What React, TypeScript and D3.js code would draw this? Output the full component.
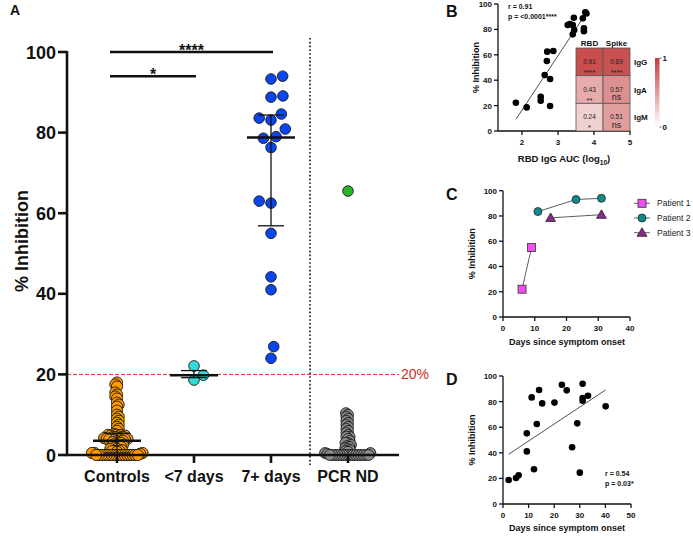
import React from "react";
import * as d3 from "d3";

// ---------- Panel A data ----------
const groupsA = ["Controls", "<7 days", "7+ days", "PCR ND"];
const controlsValues = [
  18, 17.5, 17, 15.5, 15, 14.5, 14, 13, 12.5, 12, 11, 10, 9.5, 9, 8.5, 8, 7.5, 7, 6.5, 6,
  5.2, 5, 5, 5, 4.8, 4.8, 4.6, 4.5, 4.5, 4.4, 4.2, 4.2, 4, 4, 4, 3.9, 3.8, 3.8, 3.7, 3.6,
  3.5, 3.4, 3.2, 3, 3, 2.8, 2.5, 2.5, 2.2, 2, 2, 1.8, 1.5, 1.5, 1.2, 1, 1, 1, 0.8, 0.5,
  0.5, 0.5, 0.3, 0, 0, 0, 0, 0, 0, 0, 0, 0, 0, 0, 0, 0, 0, 0, 0, 0,
];
const earlyValues = [22.1, 18.6, 19.8];
const lateValues = [93.3, 94.0, 88.8, 89.1, 84.6, 83.6, 83.1, 80.9, 78.6, 79.0, 76.3, 63.0, 62.5, 55.0, 44.2, 41.0, 26.9, 24.0];
const pcrNDValues = [
  10.4, 10, 9.5, 9, 8.5, 8, 7.5, 7, 6.5, 6, 5.5, 5, 4.5, 4.5, 4, 3.5, 3, 3, 2.5, 2.2, 2, 1.7,
  1.5, 1.2, 1, 0.8, 0.5, 0.5, 0.3, 0, 0, 0, 0, 0, 0, 0, 0, 0, 0, 0, 0, 0, 0, 0, 0,
];
const pcrPositiveValues = [65.5];
const yTicksA = [0, 20, 40, 60, 80, 100];
const thresholdA = 20;
const sigBars = [
  { from: "Controls", to: "7+ days", level: 100, label: "****" },
  { from: "Controls", to: "<7 days", level: 94, label: "*" },
];

// ---------- Panel B data ----------
const aucB = [1.83, 2.13, 2.52, 2.52, 2.78, 2.63, 2.78, 2.69, 2.70, 2.87, 3.27, 3.33, 3.41, 3.44, 3.45, 3.41, 3.69, 3.72, 3.72, 3.76, 3.79];
const inhB = [22.3, 18.6, 27.0, 23.9, 19.7, 44.0, 41.0, 55.1, 62.5, 63.0, 83.5, 84.2, 83.5, 89.2, 79.5, 76.1, 88.7, 80.8, 78.6, 93.4, 92.5];
const xTicksB = [2, 3, 4, 5];
const yTicksSmall = [0, 20, 40, 60, 80, 100];
const heatRows = ["IgG", "IgA", "IgM"];
const heatCols = ["RBD", "Spike"];
const heatR = [[0.91, 0.89], [0.43, 0.57], [0.24, 0.51]];
const heatSig = [["****", "****"], ["**", "ns"], ["*", "ns"]];

// ---------- Panel C data ----------
const patients = ["Patient 1", "Patient 2", "Patient 3"];
const p1Days = [6, 9];
const p1Inh = [22, 55];
const p2Days = [11, 23, 31];
const p2Inh = [83.5, 93, 94];
const p3Days = [15, 31];
const p3Inh = [78.5, 81];
const xTicksC = [0, 10, 20, 30, 40];

// ---------- Panel D data ----------
const daysD = [2.2, 5.1, 6.1, 9.3, 9.3, 12.1, 13.2, 11.2, 14.1, 15.3, 20.1, 23, 24.9, 27, 29, 30, 31.1, 31.1, 31.1, 33.2, 40.1];
const inhD = [18.75, 20.3, 22.4, 41.1, 55.2, 27.1, 62.5, 83.3, 89.1, 78.6, 79.2, 93.2, 88.8, 44.3, 63, 24.5, 94, 82.8, 80.7, 84.6, 76.3];
const xTicksD = [0, 10, 20, 30, 40, 50];

const FONT = "'Liberation Sans', Arial, Helvetica, sans-serif";
const INK = "#111";

function swarm(values: number[], y: (v: number) => number, d: number): number[] {
  const idx = values.map((_, i) => i).sort((a, b) => values[a] - values[b]);
  const placed: { x: number; y: number }[] = [];
  const out = new Array(values.length).fill(0);
  let flip = 1;
  for (const i of idx) {
    const py = y(values[i]);
    const cands = [0];
    for (const p of placed) {
      const dy = Math.abs(p.y - py);
      if (dy < d) {
        const dx = Math.sqrt(d * d - dy * dy);
        cands.push(p.x + dx, p.x - dx);
      }
    }
    cands.sort((a, b) => Math.abs(a) - Math.abs(b) || (a - b) * flip);
    flip = -flip;
    let chosen = 0;
    for (const c of cands) {
      if (placed.every((p) => (p.x - c) ** 2 + (p.y - py) ** 2 >= d * d - 1e-6)) {
        chosen = c;
        break;
      }
    }
    placed.push({ x: chosen, y: py });
    out[i] = chosen;
  }
  return out;
}

function linreg(xs: number[], ys: number[]) {
  const mx = d3.mean(xs)!;
  const my = d3.mean(ys)!;
  let num = 0, den = 0;
  xs.forEach((x, i) => {
    num += (x - mx) * (ys[i] - my);
    den += (x - mx) ** 2;
  });
  const b = num / den;
  return { a: my - b * mx, b };
}

export default function App() {
  // ----- A scales -----
  const xA = d3.scalePoint<string>().domain(groupsA).range([117, 348]);
  const yA = d3.scaleLinear().domain([0, 100]).range([455, 52]);
  const axisA = 67;

  const groupData = [
    { g: "Controls", vals: controlsValues, fill: "#ff9900", d: 2.6, r: 5.6, summary: true },
    { g: "<7 days", vals: earlyValues, fill: "#33dbd6", d: 10.6, r: 5.3, summary: true },
    { g: "7+ days", vals: lateValues, fill: "#0a46f0", d: 12, r: 5.3, summary: true },
    { g: "PCR ND", vals: pcrNDValues, fill: "#8c8c8c", d: 2.6, r: 5.4, summary: false },
  ];

  // ----- B scales -----
  const xB = d3.scaleLinear().domain([4 / 3, 5]).range([498, 630]);
  const yB = d3.scaleLinear().domain([0, 100]).range([131, 4]);
  const regB = linreg(aucB, inhB);
  const bx0 = d3.min(aucB)!, bx1 = d3.max(aucB)!;
  const colBand = d3.scaleBand<string>().domain(heatCols).range([576, 630]);
  const rowBand = d3.scaleBand<string>().domain(heatRows).range([48, 131]);
  const heatBase = "#c43c3c";
  const heatColor = (v: number) => d3.interpolateRgb("#ffffff", heatBase)(v);
  const cbScale = d3.scaleLinear().domain([0, 1]).range([127, 58]);

  // ----- C scales -----
  const xC = d3.scaleLinear().domain([0, 40]).range([503, 630]);
  const yC = d3.scaleLinear().domain([0, 100]).range([317, 190.7]);
  const lineC = (xs: number[], ys: number[]) =>
    d3.line<number>().x((_, i) => xC(xs[i])).y((_, i) => yC(ys[i]))(xs);

  // ----- D scales -----
  const xD = d3.scaleLinear().domain([0, 50]).range([503, 631]);
  const yD = d3.scaleLinear().domain([0, 100]).range([504, 376]);
  const regD = linreg(daysD, inhD);
  const dx0 = d3.min(daysD)!, dx1 = d3.max(daysD)!;

  const smallAxes = (
    xs: d3.ScaleLinear<number, number>,
    ys: d3.ScaleLinear<number, number>,
    xt: number[],
    key: string
  ) => {
    const [x0, x1] = xs.range();
    const [y0, y1] = ys.range();
    return (
      <g key={key} fontFamily={FONT} fontWeight="bold" fontSize={8} fill={INK}>
        <line x1={x0} x2={x0} y1={y0} y2={y1} stroke={INK} strokeWidth={1.3} />
        <line x1={x0} x2={x1} y1={y0} y2={y0} stroke={INK} strokeWidth={1.3} />
        {yTicksSmall.map((t) => (
          <g key={"y" + t}>
            <line x1={x0 - 4} x2={x0} y1={ys(t)} y2={ys(t)} stroke={INK} strokeWidth={1.3} />
            <text x={x0 - 6} y={ys(t) + 3} textAnchor="end" fill={INK}>{t}</text>
          </g>
        ))}
        {xt.map((t) => (
          <g key={"x" + t}>
            <line x1={xs(t)} x2={xs(t)} y1={y0} y2={y0 + 4} stroke={INK} strokeWidth={1.3} />
            <text x={xs(t)} y={y0 + 14} textAnchor="middle" fill={INK}>{t}</text>
          </g>
        ))}
      </g>
    );
  };

  return (
    <svg
      width={693}
      height={536}
      style={{ position: "absolute", left: 0, top: 0, background: "#fff" }}
      fontFamily={FONT}
    >
      {/* ================= PANEL A ================= */}
      <text x={10} y={15} fontSize={14} fontWeight="bold" fill={INK}>A</text>
      <line x1={axisA} x2={399} y1={yA(thresholdA)} y2={yA(thresholdA)} stroke="#e0301e" strokeWidth={1} strokeDasharray="4 2" />
      <text x={401} y={yA(thresholdA) + 5} fontSize={14} fill="#d62a1e">20%</text>
      <line x1={310} x2={310} y1={38} y2={465} stroke={INK} strokeWidth={1.6} strokeDasharray="1.6 2.2" />
      {groupData.map((gd) => {
        const offs = swarm(gd.vals, yA, gd.d);
        const cx = xA(gd.g)!;
        return (
          <g key={gd.g}>
            {gd.vals.map((v, i) => (
              <circle key={i} cx={cx + offs[i]} cy={yA(v)} r={gd.r} fill={gd.fill} stroke="#1a1a1a" strokeWidth={0.9} />
            ))}
          </g>
        );
      })}
      {pcrPositiveValues.map((v, i) => (
        <circle key={"pp" + i} cx={xA("PCR ND")!} cy={yA(v)} r={5.3} fill="#2bb52b" stroke="#1a1a1a" strokeWidth={0.9} />
      ))}
      {groupData.filter((gd) => gd.summary).map((gd) => {
        const s = gd.vals.slice().sort(d3.ascending);
        const med = d3.quantileSorted(s, 0.5)!;
        const q1 = d3.quantileSorted(s, 0.25)!;
        const q3 = d3.quantileSorted(s, 0.75)!;
        const cx = xA(gd.g)!;
        return (
          <g key={"s" + gd.g} stroke={INK}>
            <line x1={cx} x2={cx} y1={yA(q1)} y2={yA(q3)} strokeWidth={1.3} />
            <line x1={cx - 13} x2={cx + 13} y1={yA(q1)} y2={yA(q1)} strokeWidth={1.3} />
            <line x1={cx - 13} x2={cx + 13} y1={yA(q3)} y2={yA(q3)} strokeWidth={1.3} />
            <line x1={cx - 24} x2={cx + 24} y1={yA(med)} y2={yA(med)} strokeWidth={2.5} />
          </g>
        );
      })}
      <line x1={axisA} x2={axisA} y1={yA(100) - 1} y2={yA(0)} stroke={INK} strokeWidth={2.6} />
      <line x1={axisA - 1.3} x2={399} y1={yA(0)} y2={yA(0)} stroke={INK} strokeWidth={2.6} />
      {yTicksA.map((t) => (
        <g key={"ya" + t}>
          <line x1={axisA - 9} x2={axisA} y1={yA(t)} y2={yA(t)} stroke={INK} strokeWidth={2.6} />
          <text x={axisA - 11} y={yA(t) + 6.5} textAnchor="end" fontSize={18} fontWeight="bold" fill={INK}>{t}</text>
        </g>
      ))}
      {groupsA.map((g) => (
        <g key={"xa" + g}>
          <line x1={xA(g)!} x2={xA(g)!} y1={yA(0)} y2={yA(0) + 8} stroke={INK} strokeWidth={2.6} />
          <text x={xA(g)!} y={482} textAnchor="middle" fontSize={16} fontWeight="bold" fill={INK}>{g}</text>
        </g>
      ))}
      <text transform={`translate(28,241) rotate(-90)`} textAnchor="middle" fontSize={18} fontWeight="bold" fill={INK}>% Inhibition</text>
      {sigBars.map((sb) => {
        const x1 = xA(sb.from)! - 7;
        const x2 = xA(sb.to)! + 2;
        const y = yA(sb.level);
        return (
          <g key={sb.label}>
            <line x1={x1} x2={x2} y1={y} y2={y} stroke={INK} strokeWidth={2.6} />
            <text x={(x1 + x2) / 2} y={y + 4} textAnchor="middle" fontSize={16} fontWeight="bold" fill={INK}>{sb.label}</text>
          </g>
        );
      })}

      {/* ================= PANEL B ================= */}
      <text x={446} y={17} fontSize={16} fontWeight="bold" fill={INK}>B</text>
      {smallAxes(xB, yB, xTicksB, "axB")}
      <line x1={xB(bx0)} x2={xB(bx1)} y1={yB(regB.a + regB.b * bx0)} y2={yB(regB.a + regB.b * bx1)} stroke="#222" strokeWidth={0.8} />
      {aucB.map((x, i) => (
        <circle key={"b" + i} cx={xB(x)} cy={yB(inhB[i])} r={3.3} fill="#000" />
      ))}
      <text x={508} y={9} fontSize={7} fontWeight="bold" fill={INK}>r = 0.91</text>
      <text x={508} y={19} fontSize={7} fontWeight="bold" fill={INK}>p = &lt;0.0001****</text>
      <text transform={`translate(479,${yB(50)}) rotate(-90)`} textAnchor="middle" fontSize={9} fontWeight="bold" fill={INK}>% Inhibition</text>
      <text x={564} y={162} textAnchor="middle" fontSize={9.5} fontWeight="bold" fill={INK}>
        RBD IgG AUC (log<tspan fontSize={6.5} dy={3}>10</tspan><tspan dy={-3}>)</tspan>
      </text>
      {heatRows.map((row, ri) =>
        heatCols.map((col, ci) => {
          const x = colBand(col)!;
          const y = rowBand(row)!;
          const w = colBand.bandwidth();
          const h = rowBand.bandwidth();
          const sig = heatSig[ri][ci];
          return (
            <g key={row + col}>
              <rect x={x} y={y} width={w} height={h} fill={heatColor(heatR[ri][ci])} stroke="#555" strokeWidth={0.8} />
              <text x={x + w / 2} y={y + 16} textAnchor="middle" fontSize={6.5} fill="#222">{heatR[ri][ci].toFixed(2)}</text>
              <text x={x + w / 2} y={sig === "ns" ? y + 24.5 : y + 27} textAnchor="middle" fontSize={sig === "ns" ? 9 : 7.5} fill="#222">{sig}</text>
            </g>
          );
        })
      )}
      {heatCols.map((c) => (
        <text key={"hc" + c} x={colBand(c)! + colBand.bandwidth() / 2} y={46} textAnchor="middle" fontSize={8} fontWeight="bold" fill={INK}>{c}</text>
      ))}
      {heatRows.map((r) => (
        <text key={"hr" + r} x={634} y={rowBand(r)! + rowBand.bandwidth() / 2 + 3} fontSize={8} fontWeight="bold" fill={INK}>{r}</text>
      ))}
      <defs>
        <linearGradient id="cbar" x1="0" y1="1" x2="0" y2="0">
          <stop offset="0" stopColor={heatColor(0)} />
          <stop offset="1" stopColor={heatColor(1)} />
        </linearGradient>
      </defs>
      <rect x={655} y={cbScale(1)} width={4.5} height={cbScale(0) - cbScale(1)} fill="url(#cbar)" />
      {[0, 1].map((t) => (
        <g key={"cb" + t}>
          <line x1={659.5} x2={661.5} y1={cbScale(t)} y2={cbScale(t)} stroke="#333" strokeWidth={0.8} />
          <text x={662.5} y={cbScale(t) + 3} fontSize={8} fontWeight="bold" fill={INK}>{t}</text>
        </g>
      ))}

      {/* ================= PANEL C ================= */}
      <text x={446} y={200} fontSize={16} fontWeight="bold" fill={INK}>C</text>
      {smallAxes(xC, yC, xTicksC, "axC")}
      <text transform={`translate(475,${yC(50)}) rotate(-90)`} textAnchor="middle" fontSize={9} fontWeight="bold" fill={INK}>% Inhibition</text>
      <text x={567} y={345} textAnchor="middle" fontSize={9} fontWeight="bold" fill={INK}>Days since symptom onset</text>
      <path d={lineC(p1Days, p1Inh)!} fill="none" stroke="#333" strokeWidth={0.8} />
      <path d={lineC(p2Days, p2Inh)!} fill="none" stroke="#333" strokeWidth={0.8} />
      <path d={lineC(p3Days, p3Inh)!} fill="none" stroke="#333" strokeWidth={0.8} />
      {p1Days.map((d, i) => (
        <rect key={"c1" + i} x={xC(d) - 4} y={yC(p1Inh[i]) - 4} width={8} height={8} fill="#f04ef0" stroke="#333" strokeWidth={0.8} />
      ))}
      {p2Days.map((d, i) => (
        <circle key={"c2" + i} cx={xC(d)} cy={yC(p2Inh[i])} r={4} fill="#0e8c8c" stroke="#222" strokeWidth={0.8} />
      ))}
      {p3Days.map((d, i) => (
        <path key={"c3" + i} d={d3.symbol(d3.symbolTriangle, 42)()!} transform={`translate(${xC(d)},${yC(p3Inh[i]) + 0.8})`} fill="#8b2a8b" stroke="#222" strokeWidth={0.8} />
      ))}
      {patients.map((p, i) => {
        const ly = 203.3 + i * 14.7;
        return (
          <g key={p}>
            <line x1={634} x2={650} y1={ly} y2={ly} stroke="#333" strokeWidth={0.8} />
            {i === 0 && <rect x={638} y={ly - 4} width={8} height={8} fill="#f04ef0" stroke="#333" strokeWidth={0.8} />}
            {i === 1 && <circle cx={642} cy={ly} r={4} fill="#0e8c8c" stroke="#222" strokeWidth={0.8} />}
            {i === 2 && <path d={d3.symbol(d3.symbolTriangle, 42)()!} transform={`translate(642,${ly + 0.8})`} fill="#8b2a8b" stroke="#222" strokeWidth={0.8} />}
            <text x={657} y={ly + 3} fontSize={8.5} fill="#222">{p}</text>
          </g>
        );
      })}

      {/* ================= PANEL D ================= */}
      <text x={446} y={385} fontSize={16} fontWeight="bold" fill={INK}>D</text>
      {smallAxes(xD, yD, xTicksD, "axD")}
      <text transform={`translate(475,${yD(50)}) rotate(-90)`} textAnchor="middle" fontSize={9} fontWeight="bold" fill={INK}>% Inhibition</text>
      <text x={567} y={531} textAnchor="middle" fontSize={9} fontWeight="bold" fill={INK}>Days since symptom onset</text>
      <line x1={xD(dx0)} x2={xD(dx1)} y1={yD(regD.a + regD.b * dx0)} y2={yD(regD.a + regD.b * dx1)} stroke="#222" strokeWidth={0.8} />
      {daysD.map((d, i) => (
        <circle key={"d" + i} cx={xD(d)} cy={yD(inhD[i])} r={3.3} fill="#000" />
      ))}
      <text x={605} y={476} fontSize={7} fontWeight="bold" fill={INK}>r = 0.54</text>
      <text x={605} y={486} fontSize={7} fontWeight="bold" fill={INK}>p = 0.03*</text>
    </svg>
  );
}
